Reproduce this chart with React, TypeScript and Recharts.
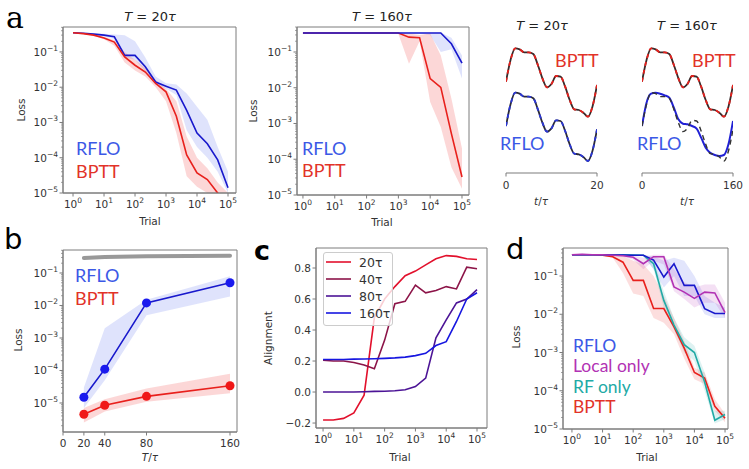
import React from "react";
import { ComposedChart, Line, Area, XAxis, YAxis, ReferenceArea } from "recharts";

// ---- data ----
const TRIALS = [1, 2.15, 4.64, 10, 21.5, 46.4, 100, 215, 464, 1000, 2154, 4642, 10000, 21544, 46416, 100000];
const TRIAL_TICKS = [1, 10, 100, 1000, 10000, 100000];

// panel a, T = 20
const A1_RFLO = [0.35, 0.34, 0.32, 0.3, 0.27, 0.08, 0.08, 0.038, 0.014, 0.0107, 0.0083, 0.0022, 0.0005, 0.00025, 0.000087, 0.000014];
const A1_RFLO_HI = [0.36, 0.35, 0.34, 0.33, 0.31, 0.3, 0.2, 0.07, 0.02, 0.013, 0.012, 0.0066, 0.0028, 0.0012, 0.0002, 0.00004];
const A1_RFLO_LO = [0.34, 0.33, 0.3, 0.28, 0.23, 0.07, 0.06, 0.028, 0.012, 0.009, 0.006, 0.0006, 0.0002, 0.0001, 0.00004, 0.00001];
const A1_BPTT = [0.35, 0.33, 0.3, 0.25, 0.19, 0.072, 0.042, 0.027, 0.0128, 0.0074, 0.0015, 0.00012, 0.000037, 0.000024, 0.00001, 0.000004];
const A1_BPTT_HI = [0.36, 0.34, 0.31, 0.27, 0.22, 0.1, 0.06, 0.035, 0.016, 0.009, 0.004, 0.0004, 0.0001, 0.00005, 0.00002, 0.00001];
const A1_BPTT_LO = [0.34, 0.32, 0.29, 0.23, 0.15, 0.05, 0.03, 0.02, 0.01, 0.004, 0.0005, 0.00003, 0.000015, 0.00001, 0.000005, 0.000003];

// panel a, T = 160
const A2_RFLO = [0.34, 0.34, 0.34, 0.34, 0.34, 0.34, 0.34, 0.34, 0.34, 0.34, 0.34, 0.34, 0.34, 0.34, 0.17, 0.049];
const A2_RFLO_HI = [0.35, 0.35, 0.35, 0.35, 0.35, 0.35, 0.35, 0.35, 0.35, 0.35, 0.35, 0.35, 0.35, 0.35, 0.25, 0.08];
const A2_RFLO_LO = [0.33, 0.33, 0.33, 0.33, 0.33, 0.33, 0.33, 0.33, 0.33, 0.33, 0.33, 0.33, 0.3, 0.1, 0.12, 0.018];
const A2_BPTT = [0.34, 0.34, 0.34, 0.34, 0.34, 0.34, 0.34, 0.34, 0.34, 0.34, 0.26, 0.25, 0.018, 0.0102, 0.00052, 0.000032];
const A2_BPTT_HI = [0.35, 0.35, 0.35, 0.35, 0.35, 0.35, 0.35, 0.35, 0.35, 0.35, 0.33, 0.3, 0.33, 0.08, 0.005, 0.0002];
const A2_BPTT_LO = [0.33, 0.33, 0.33, 0.33, 0.33, 0.33, 0.33, 0.33, 0.33, 0.32, 0.047, 0.2, 0.004, 0.0008, 0.00006, 0.000015];

// example outputs (t/tau)
const T20_TIME = [0, 1, 2, 3, 4, 5, 6, 7, 8, 9, 10, 11, 12, 13, 14, 15, 16, 17, 18, 19, 20];
const T160_TIME = [0, 8, 16, 24, 32, 40, 48, 56, 64, 72, 80, 88, 96, 104, 112, 120, 128, 136, 144, 152, 160];
const TARGET = [1.05, 1.7, 2.05, 2.02, 1.93, 1.93, 1.88, 1.55, 1.15, 0.88, 0.98, 1.22, 1.2, 0.9, 0.5, 0.22, 0.2, 0.12, 0.0, 0.3, 0.95];
const RFLO_T160 = [1.05, 1.75, 2.02, 2.05, 2.02, 1.97, 1.9, 1.6, 1.25, 1.12, 1.1, 1.05, 0.97, 0.7, 0.4, 0.25, 0.18, 0.15, 0.18, 0.5, 1.2];

// panel b
const B_T = [20, 40, 80, 160];
const B_TICKS = [0, 20, 40, 80, 160];
const B_RFLO = [1.5e-5, 1.1e-4, 1.2e-2, 5e-2];
const B_RFLO_HI = [3e-5, 2e-3, 1.5e-2, 8e-2];
const B_RFLO_LO = [7e-6, 5e-5, 5e-3, 1.9e-2];
const B_BPTT = [4.5e-6, 8.5e-6, 1.6e-5, 3.4e-5];
const B_BPTT_HI = [7e-6, 1.3e-5, 2.8e-5, 8e-5];
const B_BPTT_LO = [2.5e-6, 5.5e-6, 1.1e-5, 2e-5];
const B_CHANCE = [0.29, 0.31, 0.33, 0.34];

// panel c
const C_20 = [-0.18, -0.18, -0.17, -0.135, -0.02, 0.48, 0.6, 0.68, 0.75, 0.78, 0.82, 0.86, 0.88, 0.875, 0.86, 0.855];
const C_40 = [0.205, 0.2, 0.2, 0.19, 0.175, 0.15, 0.335, 0.57, 0.585, 0.69, 0.64, 0.655, 0.68, 0.665, 0.805, 0.795];
const C_80 = [0, 0, 0, 0, 0.002, 0.004, 0.005, 0.008, 0.015, 0.035, 0.09, 0.35, 0.465, 0.575, 0.6, 0.66];
const C_160 = [0.21, 0.21, 0.21, 0.212, 0.213, 0.215, 0.217, 0.22, 0.225, 0.235, 0.25, 0.3, 0.325, 0.455, 0.6, 0.64];
const C_TICKS = [-0.2, 0, 0.2, 0.4, 0.6, 0.8];
const C_LABELS = ["20τ", "40τ", "80τ", "160τ"];

// panel d
const D_RFLO = [0.36, 0.36, 0.36, 0.36, 0.355, 0.355, 0.35, 0.35, 0.26, 0.094, 0.21, 0.057, 0.057, 0.014, 0.0105, 0.0105];
const D_RFLO_HI = [0.37, 0.37, 0.37, 0.37, 0.36, 0.36, 0.36, 0.36, 0.33, 0.25, 0.3, 0.25, 0.1, 0.03, 0.02, 0.015];
const D_RFLO_LO = [0.35, 0.35, 0.35, 0.35, 0.35, 0.35, 0.34, 0.33, 0.15, 0.05, 0.1, 0.03, 0.03, 0.01, 0.008, 0.008];
const D_LOCAL = [0.36, 0.37, 0.36, 0.36, 0.35, 0.34, 0.31, 0.21, 0.32, 0.32, 0.052, 0.038, 0.026, 0.038, 0.036, 0.011];
const D_LOCAL_HI = [0.37, 0.38, 0.37, 0.37, 0.36, 0.36, 0.34, 0.3, 0.36, 0.36, 0.15, 0.07, 0.05, 0.06, 0.06, 0.02];
const D_LOCAL_LO = [0.35, 0.36, 0.35, 0.35, 0.34, 0.32, 0.27, 0.15, 0.25, 0.2, 0.04, 0.025, 0.015, 0.02, 0.02, 0.008];
const D_RF = [0.36, 0.36, 0.36, 0.36, 0.36, 0.36, 0.355, 0.35, 0.21, 0.023, 0.0052, 0.0016, 0.001, 0.00017, 0.000017, 0.000024];
const D_RF_HI = [0.37, 0.37, 0.37, 0.37, 0.37, 0.37, 0.36, 0.36, 0.27, 0.04, 0.008, 0.0025, 0.0015, 0.0003, 0.00003, 0.00003];
const D_RF_LO = [0.35, 0.35, 0.35, 0.35, 0.35, 0.35, 0.35, 0.34, 0.15, 0.015, 0.004, 0.001, 0.0006, 0.0001, 0.000014, 0.000018];
const D_BPTT = [0.36, 0.36, 0.36, 0.35, 0.32, 0.23, 0.077, 0.077, 0.0141, 0.0141, 0.0047, 0.0013, 0.0003, 0.000215, 0.000039, 0.000019];
const D_BPTT_HI = [0.37, 0.37, 0.37, 0.36, 0.34, 0.33, 0.25, 0.2, 0.1, 0.03, 0.008, 0.002, 0.0004, 0.0003, 0.00006, 0.000025];
const D_BPTT_LO = [0.35, 0.35, 0.35, 0.34, 0.3, 0.12, 0.035, 0.03, 0.008, 0.006, 0.003, 0.0007, 0.0002, 0.00015, 0.00003, 0.000015];

// ---- styles ----
const SPINE = "#7c7c7c";
const INK = "#333333";
const FONT = "DejaVu Sans";
const GILL = "Lato";
const BLUE_LINE = "#1818cc";
const RED_LINE = "#e8201c";
const BLUE_TXT = "#3b58e6";
const RED_TXT = "#e23328";
const MAG = "#b232b4";
const TEAL = "#22aaa6";
const C_COLORS = ["#e2102c", "#8c1448", "#4c1496", "#1616e0"];
const BLUE_BAND = "#6f7ff0";
const RED_BAND = "#f47a7a";

const sup = (e: number) => (e < 0 ? "\u2212" + Math.abs(e) : String(e));

function logTicks(lo: number, hi: number, bottom: number, top: number) {
  const out: number[] = [];
  for (let e = lo; e <= hi; e++) {
    for (let m = 1; m < 10; m++) {
      const v = m * Math.pow(10, e);
      if (v >= bottom && v <= top) out.push(v);
    }
  }
  return out;
}

function LogXTick(props: any) {
  const { x, y, payload } = props;
  const e = Math.round(Math.log10(payload.value));
  return (
    <g>
      <line x1={x} x2={x} y1={y} y2={y + 3.5} stroke={SPINE} />
      <text x={x} y={y + 15} textAnchor="middle" fill={INK} fontSize={10.5} fontFamily={FONT}>
        10<tspan dy={-5} fontSize={7.5}>{sup(e)}</tspan>
      </text>
    </g>
  );
}

function LogYTick(props: any) {
  const { x, y, payload } = props;
  const l = Math.log10(payload.value);
  const major = Math.abs(l - Math.round(l)) < 1e-6;
  return (
    <g>
      <line x1={x} x2={x - (major ? 3.5 : 2)} y1={y} y2={y} stroke={SPINE} strokeWidth={major ? 1 : 0.7} />
      {major && (
        <text x={x - 5} y={y + 4} textAnchor="end" fill={INK} fontSize={10.5} fontFamily={FONT}>
          10<tspan dy={-5} fontSize={7.5}>{sup(Math.round(l))}</tspan>
        </text>
      )}
    </g>
  );
}

function NumXTick(props: any) {
  const { x, y, payload, off = 15 } = props;
  return (
    <g>
      <line x1={x} x2={x} y1={y} y2={y + 3.5} stroke={SPINE} />
      <text x={x} y={y + off} textAnchor="middle" fill={INK} fontSize={10.5} fontFamily={FONT}>
        {payload.value}
      </text>
    </g>
  );
}

function NumYTick(props: any) {
  const { x, y, payload } = props;
  const v = payload.value;
  const s = (v < 0 ? "\u2212" : "") + Math.abs(v).toFixed(1);
  return (
    <g>
      <line x1={x} x2={x - 3.5} y1={y} y2={y} stroke={SPINE} />
      <text x={x - 5} y={y + 4} textAnchor="end" fill={INK} fontSize={10.5} fontFamily={FONT}>
        {s}
      </text>
    </g>
  );
}

type Rect = { x0: number; y0: number; x1: number; y1: number };

function Panel({ rect, data, xDomain, yDomain, xLog = true, yLog = true, xTicks, yTicks, xTick, yTick, children }: any) {
  const padL = 60, padT = 10, padR = 10, padB = 40;
  return (
    <div style={{ position: "absolute", left: rect.x0 - padL, top: rect.y0 - padT }}>
      <ComposedChart
        width={rect.x1 - rect.x0 + padL + padR}
        height={rect.y1 - rect.y0 + padT + padB}
        data={data}
        margin={{ top: padT, right: padR, left: 0, bottom: 0 }}
      >
        <XAxis
          dataKey="t"
          type="number"
          scale={xLog ? "log" : "linear"}
          domain={xDomain}
          allowDataOverflow
          ticks={xTicks}
          interval={0}
          tick={xTick}
          tickLine={false}
          tickSize={0}
          tickMargin={0}
          axisLine={{ stroke: SPINE }}
          height={padB}
        />
        <YAxis
          type="number"
          scale={yLog ? "log" : "linear"}
          domain={yDomain}
          allowDataOverflow
          ticks={yTicks}
          interval={0}
          tick={yTick}
          tickLine={false}
          tickSize={0}
          tickMargin={0}
          axisLine={{ stroke: SPINE }}
          width={padL}
        />
        {children}
        <ReferenceArea x1={xDomain[0]} x2={xDomain[1]} y1={yDomain[0]} y2={yDomain[1]} fill="none" stroke={SPINE} ifOverflow="visible" />
      </ComposedChart>
    </div>
  );
}

const band = (key: string, color: string, op = 0.22) => (
  <Area dataKey={key} type="linear" stroke="none" fill={color} fillOpacity={op} isAnimationActive={false} />
);
const line = (key: string, color: string, w = 1.6) => (
  <Line dataKey={key} type="linear" stroke={color} strokeWidth={w} dot={false} isAnimationActive={false} />
);

// ---- tables ----
const a1Data = TRIALS.map((t, i) => ({
  t,
  rflo: A1_RFLO[i],
  bptt: A1_BPTT[i],
  rfloBand: [A1_RFLO_LO[i], A1_RFLO_HI[i]],
  bpttBand: [A1_BPTT_LO[i], A1_BPTT_HI[i]],
}));
const a2Data = TRIALS.map((t, i) => ({
  t,
  rflo: A2_RFLO[i],
  bptt: A2_BPTT[i],
  rfloBand: [A2_RFLO_LO[i], A2_RFLO_HI[i]],
  bpttBand: [A2_BPTT_LO[i], A2_BPTT_HI[i]],
}));
const a3Data = T20_TIME.map((t, i) => ({ t, target: TARGET[i] }));
const a4Data = T160_TIME.map((t, i) => ({ t, target: TARGET[i], rflo: RFLO_T160[i] }));
const bData = B_T.map((t, i) => ({
  t,
  rflo: B_RFLO[i],
  bptt: B_BPTT[i],
  chance: B_CHANCE[i],
  rfloBand: [B_RFLO_LO[i], B_RFLO_HI[i]],
  bpttBand: [B_BPTT_LO[i], B_BPTT_HI[i]],
}));
const cData = TRIALS.map((t, i) => ({ t, c20: C_20[i], c40: C_40[i], c80: C_80[i], c160: C_160[i] }));
const dData = TRIALS.map((t, i) => ({
  t,
  rflo: D_RFLO[i],
  local: D_LOCAL[i],
  rf: D_RF[i],
  bptt: D_BPTT[i],
  rfloBand: [D_RFLO_LO[i], D_RFLO_HI[i]],
  localBand: [D_LOCAL_LO[i], D_LOCAL_HI[i]],
  rfBand: [D_RF_LO[i], D_RF_HI[i]],
  bpttBand: [D_BPTT_LO[i], D_BPTT_HI[i]],
}));

function WavePanel({ x0, x1, data, ticks, domain, children }: any) {
  const padL = 10, padR = 10, top = 25, plotTop = 35, axisY = 173, padB = 30;
  return (
    <div style={{ position: "absolute", left: x0 - padL, top }}>
      <ComposedChart
        width={x1 - x0 + padL + padR}
        height={axisY - top + padB}
        data={data}
        margin={{ top: plotTop - top, right: padR, left: padL, bottom: 0 }}
      >
        <XAxis
          dataKey="t"
          type="number"
          domain={domain}
          allowDataOverflow
          ticks={ticks}
          interval={0}
          tick={<NumXTick off={16} />}
          tickLine={false}
          tickSize={0}
          tickMargin={0}
          axisLine={{ stroke: SPINE, strokeWidth: 1.2 }}
          height={padB}
        />
        <YAxis yAxisId="top" hide type="number" domain={[-1.69, 2.45]} allowDataOverflow />
        <YAxis yAxisId="bot" hide type="number" domain={[-0.36, 3.78]} allowDataOverflow />
        {children}
      </ComposedChart>
    </div>
  );
}

const wave = (key: string, axis: string, color: string, w: number, dash?: string) => (
  <Line
    yAxisId={axis}
    dataKey={key}
    type="monotone"
    stroke={color}
    strokeWidth={w}
    strokeDasharray={dash}
    dot={false}
    isAnimationActive={false}
  />
);

function Title({ x, y, n, wide }: { x: number; y: number; n: string; wide?: boolean }) {
  return (
    <text x={x} y={y} textAnchor="middle" fill="#222" fontSize={13} fontFamily={FONT}>
      <tspan fontStyle="italic">T</tspan>
      {wide ? " =  " : " = "}
      {n}
      <tspan fontStyle="italic">τ</tspan>
    </text>
  );
}

function Tag({ x, y, text, color, size = 18 }: any) {
  return (
    <text x={x} y={y} fill={color} fontSize={size} fontFamily={GILL}>
      {text}
    </text>
  );
}

function VLabel({ x, y, text }: any) {
  return (
    <text x={x} y={y} transform={`rotate(-90 ${x} ${y})`} textAnchor="middle" fill={INK} fontSize={10.5} fontFamily={FONT}>
      {text}
    </text>
  );
}

function HLabel({ x, y, children }: any) {
  return (
    <text x={x} y={y} textAnchor="middle" fill={INK} fontSize={10.5} fontFamily={FONT}>
      {children}
    </text>
  );
}

export default function App() {
  const a1: Rect = { x0: 63, y0: 27, x1: 236, y1: 193 };
  const a2: Rect = { x0: 297, y0: 27, x1: 469, y1: 195 };
  const b: Rect = { x0: 63, y0: 250, x1: 237, y1: 432 };
  const c: Rect = { x0: 316, y0: 248, x1: 487, y1: 428 };
  const d: Rect = { x0: 563, y0: 248, x1: 728, y1: 429 };

  const a1Y = [1e-5, 0.51];
  const a2Y = [1e-5, 0.5];
  const bY = [1.28e-6, 0.51];
  const cY = [-0.232, 0.929];
  const dY = [1e-5, 0.54];

  return (
    <div style={{ position: "absolute", left: 0, top: 0, width: 749, height: 469, background: "#fff", overflow: "hidden" }}>
      <Panel
        rect={a1}
        data={a1Data}
        xDomain={[0.475, 181000]}
        yDomain={a1Y}
        xTicks={TRIAL_TICKS}
        yTicks={logTicks(-5, -1, a1Y[0], a1Y[1])}
        xTick={<LogXTick />}
        yTick={<LogYTick />}
      >
        {band("rfloBand", BLUE_BAND)}
        {band("bpttBand", RED_BAND, 0.3)}
        {line("rflo", BLUE_LINE)}
        {line("bptt", RED_LINE)}
      </Panel>

      <Panel
        rect={a2}
        data={a2Data}
        xDomain={[0.65, 166000]}
        yDomain={a2Y}
        xTicks={TRIAL_TICKS}
        yTicks={logTicks(-5, -1, a2Y[0], a2Y[1])}
        xTick={<LogXTick />}
        yTick={<LogYTick />}
      >
        {band("rfloBand", BLUE_BAND)}
        {band("bpttBand", RED_BAND, 0.3)}
        {line("bptt", RED_LINE)}
        {line("rflo", BLUE_LINE)}
      </Panel>

      <WavePanel x0={506} x1={597} data={a3Data} ticks={[0, 20]} domain={[0, 20]}>
        {wave("target", "top", "#3a2a2a", 1.8)}
        {wave("target", "top", RED_LINE, 1.8, "4 4")}
        {wave("target", "bot", "#2a2a3a", 1.8)}
        {wave("target", "bot", "#2a36d8", 1.8, "4 4")}
      </WavePanel>

      <WavePanel x0={642} x1={733} data={a4Data} ticks={[0, 160]} domain={[0, 160]}>
        {wave("target", "top", "#3a2a2a", 1.8)}
        {wave("target", "top", RED_LINE, 1.8, "4 4")}
        {wave("rflo", "bot", "#2020d4", 2)}
        {wave("target", "bot", "#333", 1.4, "5 4")}
      </WavePanel>

      <Panel
        rect={b}
        data={bData}
        xLog={false}
        xDomain={[0, 166.7]}
        yDomain={bY}
        xTicks={B_TICKS}
        yTicks={logTicks(-6, -1, bY[0], bY[1])}
        xTick={<NumXTick />}
        yTick={<LogYTick />}
      >
        {band("rfloBand", BLUE_BAND)}
        {band("bpttBand", RED_BAND, 0.3)}
        <Line dataKey="chance" type="linear" stroke="#999" strokeWidth={4} strokeLinecap="round" dot={false} isAnimationActive={false} />
        <Line dataKey="rflo" type="linear" stroke={BLUE_LINE} strokeWidth={1.6} dot={{ r: 4.5, fill: "#1a1aee", stroke: "none" }} isAnimationActive={false} />
        <Line dataKey="bptt" type="linear" stroke={RED_LINE} strokeWidth={1.6} dot={{ r: 4.5, fill: "#f01818", stroke: "none" }} isAnimationActive={false} />
      </Panel>

      <Panel
        rect={c}
        data={cData}
        yLog={false}
        xDomain={[0.59, 211000]}
        yDomain={cY}
        xTicks={TRIAL_TICKS}
        yTicks={C_TICKS}
        xTick={<LogXTick />}
        yTick={<NumYTick />}
      >
        {line("c20", C_COLORS[0])}
        {line("c40", C_COLORS[1])}
        {line("c80", C_COLORS[2])}
        {line("c160", C_COLORS[3])}
      </Panel>

      <Panel
        rect={d}
        data={dData}
        xDomain={[0.51, 125000]}
        yDomain={dY}
        xTicks={TRIAL_TICKS}
        yTicks={logTicks(-5, -1, dY[0], dY[1])}
        xTick={<LogXTick />}
        yTick={<LogYTick />}
      >
        {band("bpttBand", RED_BAND, 0.25)}
        {band("rfBand", TEAL, 0.15)}
        {band("rfloBand", BLUE_BAND, 0.2)}
        {band("localBand", MAG, 0.15)}
        {line("bptt", RED_LINE)}
        {line("rf", TEAL)}
        {line("rflo", BLUE_LINE)}
        {line("local", MAG)}
      </Panel>

      <svg width={749} height={469} style={{ position: "absolute", left: 0, top: 0, pointerEvents: "none" }}>
        {/* panel letters */}
        <text x={6} y={28} fontSize={30} fontFamily="DejaVu Serif" fill="#000">a</text>
        <text x={4} y={249} fontSize={29} fontFamily={FONT} fill="#000">b</text>
        <text x={254} y={260} fontSize={27} fontFamily={FONT} fontWeight="bold" fill="#000">c</text>
        <text x={506} y={259} fontSize={29} fontFamily={FONT} fill="#000">d</text>

        {/* titles */}
        <Title x={150} y={21} n="20" />
        <Title x={382} y={21} n="160" />
        <Title x={542} y={30} n="20" wide />
        <Title x={687} y={30} n="160" wide />

        {/* axis labels */}
        <VLabel x={25} y={110} text="Loss" />
        <VLabel x={257} y={111} text="Loss" />
        <VLabel x={22} y={340} text="Loss" />
        <VLabel x={272} y={338} text="Alignment" />
        <VLabel x={520} y={337} text="Loss" />
        <HLabel x={150} y={225}>Trial</HLabel>
        <HLabel x={382} y={226}>Trial</HLabel>
        <HLabel x={400} y={461}>Trial</HLabel>
        <HLabel x={647} y={461}>Trial</HLabel>
        <HLabel x={150} y={461}>
          <tspan fontStyle="italic">T</tspan>/<tspan fontStyle="italic">τ</tspan>
        </HLabel>
        <HLabel x={541} y={205}>
          <tspan fontStyle="italic">t</tspan>/<tspan fontStyle="italic">τ</tspan>
        </HLabel>
        <HLabel x={687} y={205}>
          <tspan fontStyle="italic">t</tspan>/<tspan fontStyle="italic">τ</tspan>
        </HLabel>

        {/* coloured labels */}
        <Tag x={76} y={155} text="RFLO" color={BLUE_TXT} />
        <Tag x={76} y={178} text="BPTT" color={RED_TXT} />
        <Tag x={302} y={155} text="RFLO" color={BLUE_TXT} />
        <Tag x={302} y={177} text="BPTT" color={RED_TXT} />
        <Tag x={555} y={67} text="BPTT" color={RED_TXT} />
        <Tag x={500} y={150} text="RFLO" color={BLUE_TXT} />
        <Tag x={692} y={67} text="BPTT" color={RED_TXT} />
        <Tag x={637} y={150} text="RFLO" color={BLUE_TXT} />
        <Tag x={75} y={282} text="RFLO" color={BLUE_TXT} />
        <Tag x={75} y={305} text="BPTT" color={RED_TXT} />
        <Tag x={573} y={352} text="RFLO" color={BLUE_TXT} size={17.5} />
        <Tag x={573} y={372} text="Local only" color={MAG} size={17.5} />
        <Tag x={573} y={393} text="RF only" color={TEAL} size={17.5} />
        <Tag x={573} y={413} text="BPTT" color={RED_TXT} size={17.5} />

        {/* legend of panel c */}
        <rect x={323.5} y={252.5} width={69} height={73} rx={2.5} fill="#fff" fillOpacity={0.8} stroke="#cccccc" />
        {C_LABELS.map((lab, i) => (
          <g key={lab}>
            <line x1={326} x2={351} y1={262 + i * 17} y2={262 + i * 17} stroke={C_COLORS[i]} strokeWidth={1.6} />
            <text x={359} y={266.5 + i * 17} fontSize={12.5} fontFamily={FONT} fill={INK}>
              {lab}
            </text>
          </g>
        ))}
      </svg>
    </div>
  );
}
